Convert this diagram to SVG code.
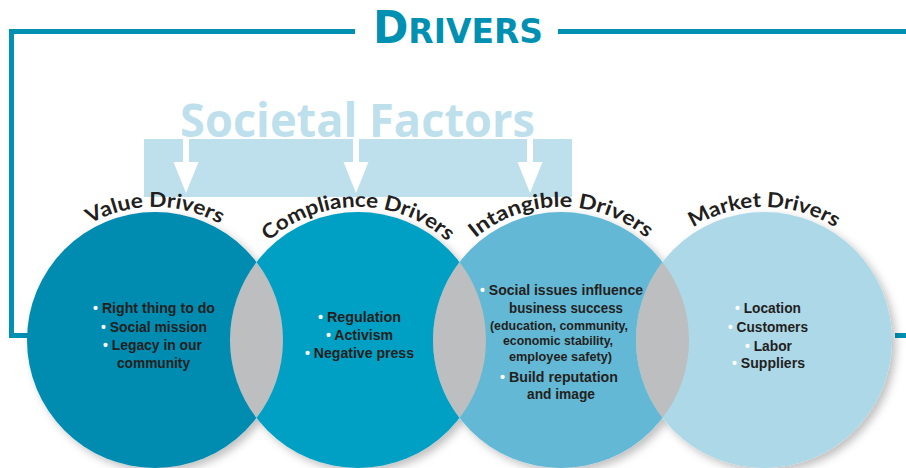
<svg xmlns="http://www.w3.org/2000/svg" width="906" height="468" viewBox="0 0 906 468">
<style>
.frame{fill:none;stroke:#0090B2;stroke-width:5}
.lab{font-family:"Lato","Liberation Sans",sans-serif;font-weight:bold;font-size:20.5px;fill:#231F20}
.t{font-family:"Liberation Sans","DejaVu Sans",sans-serif;font-weight:bold;font-size:15px;fill:#231F20}
.s{font-size:13.5px}
.b{fill:#ffffff}
.lens{fill:#BCBEC0}
.arr{fill:#fff}
</style>
<defs>
<filter id="sh" x="-10%" y="-10%" width="130%" height="130%">
<feDropShadow dx="4" dy="4" stdDeviation="4" flood-color="#000" flood-opacity="0.25"/>
</filter>
<path id="arc1" d="M26.5,305.6 A133,133 0 0 1 283.5,305.6"/>
<path id="arc2" d="M229.5,305.6 A133,133 0 0 1 486.5,305.6"/>
<path id="arc3" d="M432.5,305.6 A133,133 0 0 1 689.5,305.6"/>
<path id="arc4" d="M635.5,305.6 A133,133 0 0 1 892.5,305.6"/>
</defs>
<rect width="906" height="468" fill="#fff"/>

<g id="frame">
<path class="frame" d="M355,31.5 H11.5 V335.5 H28"/>
<path class="frame" d="M558,31.5 H906"/>
<path class="frame" d="M895,335.5 H906"/>
<text x="373" y="43" font-family="'DejaVu Sans','Liberation Sans',sans-serif" font-weight="bold" font-stretch="condensed" fill="#0090B2" textLength="170" lengthAdjust="spacingAndGlyphs"><tspan font-size="44">D</tspan><tspan font-size="34">RIVERS</tspan></text>
</g>

<g id="societal">
<text x="180" y="137" font-family="'Open Sans','Liberation Sans',sans-serif" font-weight="bold" font-size="46" fill="#BEDFEC" textLength="355" lengthAdjust="spacingAndGlyphs">Societal Factors</text>
<rect x="144" y="139" width="428" height="58" fill="#BEDFEC"/>
</g>

<g id="connectors">
<rect class="arr" x="183" y="139" width="6" height="26"/>
<polygon class="arr" points="173.5,162 198.5,162 186,193"/>
<rect class="arr" x="353" y="139" width="6" height="26"/>
<polygon class="arr" points="343.5,162 368.5,162 356,193"/>
<rect class="arr" x="527" y="139" width="6" height="26"/>
<polygon class="arr" points="517.5,162 542.5,162 530,193"/>
</g>

<g id="circles" filter="url(#sh)">
<circle cx="155" cy="340" r="128" fill="#008BB0"/>
<circle cx="358" cy="340" r="128" fill="#00A0C4"/>
<circle cx="561" cy="340" r="128" fill="#63B8D5"/>
<circle cx="764" cy="340" r="128" fill="#ADD8E8"/>
</g>
<g id="lenses">
<path class="lens" d="M256.5,262 A128,128 0 0 1 256.5,418 A128,128 0 0 1 256.5,262 Z"/>
<path class="lens" d="M459.5,262 A128,128 0 0 1 459.5,418 A128,128 0 0 1 459.5,262 Z"/>
<path class="lens" d="M662.5,262 A128,128 0 0 1 662.5,418 A128,128 0 0 1 662.5,262 Z"/>
</g>

<g id="value">
<text class="lab" text-anchor="middle"><textPath href="#arc1" startOffset="50%" textLength="136" lengthAdjust="spacingAndGlyphs">Value Drivers</textPath></text>
<text class="t" x="93" y="313" textLength="122" lengthAdjust="spacingAndGlyphs"><tspan class="b">•</tspan> Right thing to do</text>
<text class="t" x="101" y="332" textLength="106" lengthAdjust="spacingAndGlyphs"><tspan class="b">•</tspan> Social mission</text>
<text class="t" x="103" y="350" textLength="99" lengthAdjust="spacingAndGlyphs"><tspan class="b">•</tspan> Legacy in our</text>
<text class="t" x="117" y="368" textLength="73" lengthAdjust="spacingAndGlyphs">community</text>
</g>

<g id="compliance">
<text class="lab" text-anchor="middle"><textPath href="#arc2" startOffset="50%" textLength="196" lengthAdjust="spacingAndGlyphs">Compliance Drivers</textPath></text>
<text class="t" x="318" y="322" textLength="83" lengthAdjust="spacingAndGlyphs"><tspan class="b">•</tspan> Regulation</text>
<text class="t" x="326" y="340" textLength="67" lengthAdjust="spacingAndGlyphs"><tspan class="b">•</tspan> Activism</text>
<text class="t" x="305" y="358" textLength="109" lengthAdjust="spacingAndGlyphs"><tspan class="b">•</tspan> Negative press</text>
</g>

<g id="intangible">
<text class="lab" text-anchor="middle"><textPath href="#arc3" startOffset="50%" textLength="186" lengthAdjust="spacingAndGlyphs">Intangible Drivers</textPath></text>
<text class="t" x="480" y="295" textLength="163" lengthAdjust="spacingAndGlyphs"><tspan class="b">•</tspan> Social issues influence</text>
<text class="t" x="509" y="313" textLength="114" lengthAdjust="spacingAndGlyphs">business success</text>
<text class="t s" x="490" y="330" textLength="138" lengthAdjust="spacingAndGlyphs">(education, community,</text>
<text class="t s" x="503" y="345" textLength="110" lengthAdjust="spacingAndGlyphs">economic stability,</text>
<text class="t s" x="509" y="361" textLength="103" lengthAdjust="spacingAndGlyphs">employee safety)</text>
<text class="t" x="500" y="382" textLength="118" lengthAdjust="spacingAndGlyphs"><tspan class="b">•</tspan> Build reputation</text>
<text class="t" x="527" y="399" textLength="68" lengthAdjust="spacingAndGlyphs">and image</text>
</g>

<g id="market">
<text class="lab" text-anchor="middle"><textPath href="#arc4" startOffset="50%" textLength="150" lengthAdjust="spacingAndGlyphs">Market Drivers</textPath></text>
<text class="t" x="735" y="313" textLength="66" lengthAdjust="spacingAndGlyphs"><tspan class="b">•</tspan> Location</text>
<text class="t" x="728" y="332" textLength="80" lengthAdjust="spacingAndGlyphs"><tspan class="b">•</tspan> Customers</text>
<text class="t" x="745" y="351" textLength="47" lengthAdjust="spacingAndGlyphs"><tspan class="b">•</tspan> Labor</text>
<text class="t" x="732" y="368" textLength="73" lengthAdjust="spacingAndGlyphs"><tspan class="b">•</tspan> Suppliers</text>
</g>
</svg>
